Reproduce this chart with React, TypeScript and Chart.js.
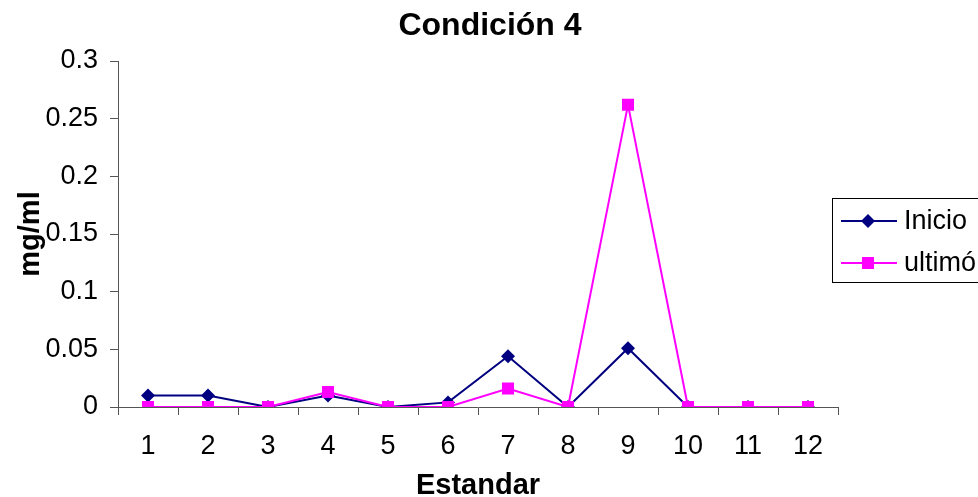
import React, { useEffect, useRef } from "react";
import { Chart, registerables } from "chart.js";

Chart.register(...registerables);

const categories = ["1", "2", "3", "4", "5", "6", "7", "8", "9", "10", "11", "12"];
const inicio = [0.01, 0.01, 0, 0.01, 0, 0.004, 0.044, 0, 0.051, 0, 0, 0];
const ultimo = [0, 0, 0, 0.013, 0, 0, 0.016, 0, 0.262, 0, 0, 0];
const yTicks = [0, 0.05, 0.1, 0.15, 0.2, 0.25, 0.3];

const titleText = "Condición 4";
const xTitle = "Estandar";
const yTitle = "mg/ml";
const seriesNames = ["Inicio", "ultimó"];
const navy = "#000080";
const magenta = "#FF00FF";
const FONT = "Arial, 'Liberation Sans', sans-serif";

// Titles and the boxed legend, painted directly on the canvas
const decorations = {
  id: "decorations",
  afterDraw(chart: Chart) {
    const { ctx, chartArea } = chart;
    ctx.save();
    ctx.fillStyle = "#000";
    ctx.textAlign = "center";
    ctx.textBaseline = "middle";
    ctx.font = `bold 32px ${FONT}`;
    ctx.fillText(titleText, 490, 26);
    ctx.font = `bold 29px ${FONT}`;
    ctx.fillText(xTitle, (chartArea.left + chartArea.right) / 2, 486);
    ctx.save();
    ctx.translate(31, (chartArea.top + chartArea.bottom) / 2);
    ctx.rotate(-Math.PI / 2);
    ctx.fillText(yTitle, 0, 0);
    ctx.restore();

    // legend box
    ctx.strokeStyle = "#000";
    ctx.lineWidth = 1;
    ctx.strokeRect(832.5, 198.5, 170, 84);
    const rows = [
      { y: 221, color: navy, name: seriesNames[0], diamond: true },
      { y: 263, color: magenta, name: seriesNames[1], diamond: false },
    ];
    for (const r of rows) {
      ctx.strokeStyle = r.color;
      ctx.lineWidth = 2;
      ctx.beginPath();
      ctx.moveTo(841, r.y);
      ctx.lineTo(897, r.y);
      ctx.stroke();
      ctx.fillStyle = r.color;
      if (r.diamond) {
        ctx.beginPath();
        ctx.moveTo(868, r.y - 7);
        ctx.lineTo(875, r.y);
        ctx.lineTo(868, r.y + 7);
        ctx.lineTo(861, r.y);
        ctx.closePath();
        ctx.fill();
      } else {
        ctx.fillRect(862, r.y - 6, 12, 12);
      }
      ctx.fillStyle = "#000";
      ctx.textAlign = "left";
      ctx.font = `27px ${FONT}`;
      ctx.fillText(r.name, 904, r.y + 1);
    }
    ctx.restore();
  },
};

export default function App() {
  const ref = useRef<HTMLCanvasElement>(null);

  useEffect(() => {
    if (!ref.current) return;
    const chart = new Chart(ref.current, {
      type: "line",
      data: {
        labels: categories,
        datasets: [
          {
            label: seriesNames[0],
            data: inicio,
            borderColor: navy,
            backgroundColor: navy,
            borderWidth: 2,
            pointStyle: "rectRot",
            pointRadius: 7,
            pointBorderWidth: 0,
            tension: 0,
            order: 1,
          },
          {
            label: seriesNames[1],
            data: ultimo,
            borderColor: magenta,
            backgroundColor: magenta,
            borderWidth: 2,
            pointStyle: "rect",
            pointRadius: 8.5,
            pointBorderWidth: 0,
            tension: 0,
            order: 0,
          },
        ],
      },
      options: {
        animation: false,
        responsive: false,
        maintainAspectRatio: false,
        layout: { padding: { top: 61, right: 140, left: 0, bottom: 0 } },
        plugins: {
          legend: { display: false },
          title: { display: false },
          tooltip: { enabled: false },
        },
        scales: {
          x: {
            type: "category",
            offset: true,
            grid: {
              offset: true,
              drawOnChartArea: false,
              drawTicks: true,
              tickLength: 8,
              color: "#555",
            },
            border: { color: "#555", width: 1 },
            ticks: {
              color: "#000",
              font: { family: FONT, size: 27 },
              padding: 15,
              maxRotation: 0,
              autoSkip: false,
            },
            afterFit(scale: any) {
              scale.height = 90;
            },
          },
          y: {
            min: 0,
            max: 0.3,
            afterBuildTicks(scale: any) {
              scale.ticks = yTicks.map((v) => ({ value: v }));
            },
            grid: {
              drawOnChartArea: false,
              drawTicks: true,
              tickLength: 8,
              color: "#555",
            },
            border: { color: "#555", width: 1 },
            ticks: {
              color: "#000",
              font: { family: FONT, size: 27 },
              padding: 12,
              callback: (v: any) => String(Number(v)),
            },
            afterFit(scale: any) {
              scale.width = 118;
            },
          },
        },
      },
      plugins: [decorations],
    });
    return () => chart.destroy();
  }, []);

  return (
    <canvas
      ref={ref}
      width={978}
      height={497}
      style={{ position: "absolute", left: 0, top: 0, width: 978, height: 497 }}
    />
  );
}
